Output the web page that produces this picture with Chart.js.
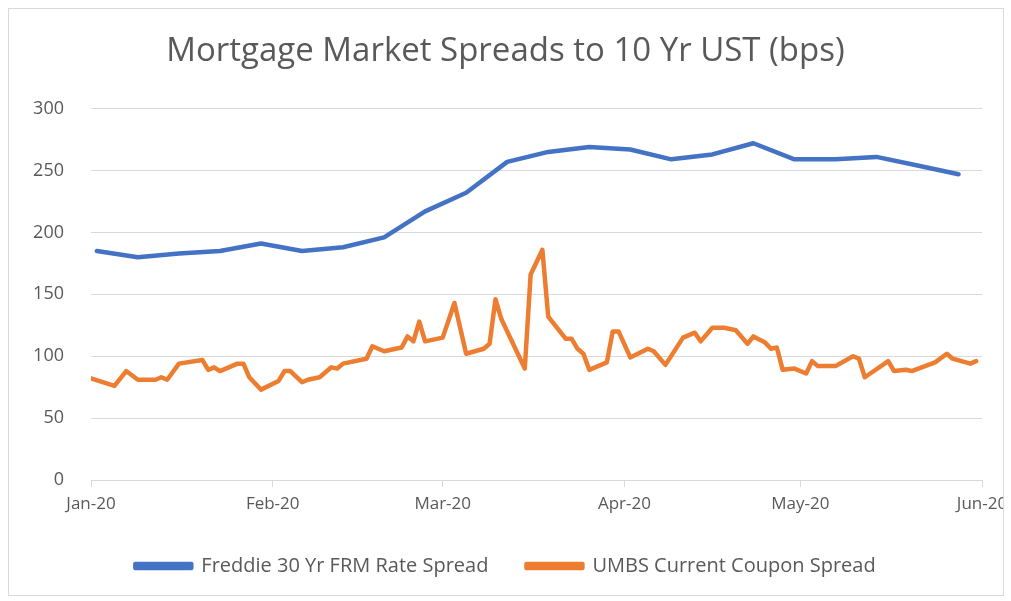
<!DOCTYPE html>
<html lang="en">
<head>
    <meta charset="UTF-8">
    <title>Mortgage Market Spreads</title>
    <style>
        * { margin: 0; padding: 0; box-sizing: border-box; }
        body { background: #fff; width: 1011px; height: 601px; overflow: hidden; }
        #wrap {
            position: absolute;
            left: 8px; top: 8px;
            width: 996px; height: 588px;
            border: 1px solid #d9d9d9;
        }
    </style>
</head>
<body>
    <div id="wrap"><canvas id="chart"></canvas></div>

    <script src="https://cdn.jsdelivr.net/npm/chart.js"></script>
    <script>
        // x values are days since 1 Jan 2020
        const monthTicks = [0, 31, 60, 91, 121, 152];
        const monthLabels = ['Jan-20', 'Feb-20', 'Mar-20', 'Apr-20', 'May-20', 'Jun-20'];

        // Freddie Mac weekly survey (Thursdays)
        const freddieDays = [1, 8, 15, 22, 29, 36, 43, 50, 57, 64, 71, 78, 85, 92, 99, 106, 113, 120, 127, 134, 141, 148];
        const freddieValues = [185, 180, 183, 185, 191, 185, 188, 196, 217, 232, 257, 265, 269, 267, 259, 263, 272, 259, 259, 261, 254, 247];

        // UMBS current coupon, read at the turning points of the line
        const umbsDays = [0, 4, 6, 8, 11, 12, 13, 15, 19, 20, 21, 22, 25, 26, 27, 29, 32, 33, 34, 36, 37, 39, 41, 42, 43,
            47, 48, 50, 53, 54, 55, 56, 57, 60, 62, 64, 67, 68, 69, 70, 74, 75, 77, 78, 81, 82, 83, 84, 85, 88, 89, 90,
            92, 95, 96, 98, 101, 103, 104, 106, 108, 110, 112, 113, 115, 116, 117, 118, 120, 122, 123, 124, 127, 130,
            131, 132, 136, 137, 139, 140, 144, 146, 147, 150, 151];
        const umbsValues = [82, 76, 88, 81, 81, 83, 81, 94, 97, 89, 91, 88, 94, 94, 83, 73, 80, 88, 88, 79, 81, 83, 91, 90, 94,
            98, 108, 104, 107, 116, 112, 128, 112, 115, 143, 102, 106, 110, 146, 130, 90, 166, 186, 132, 114, 114, 106, 102, 89, 95, 120, 120,
            99, 106, 104, 93, 115, 119, 112, 123, 123, 121, 110, 116, 111, 106, 107, 89, 90, 86, 96, 92, 92, 100,
            98, 83, 96, 88, 89, 88, 95, 102, 98, 94, 96];

        const textColor = '#595959';
        const gridColor = '#d9d9d9';
        const fontFamily = '"Open Sans", sans-serif';

        const toPoints = (xs, ys) => xs.map((x, i) => ({ x: x, y: ys[i] }));

        new Chart(document.getElementById('chart'), {
            type: 'line',
            data: {
                datasets: [{
                    label: 'Freddie 30 Yr FRM Rate Spread',
                    data: toPoints(freddieDays, freddieValues),
                    borderColor: '#4472C4',
                    backgroundColor: '#4472C4',
                    borderWidth: 4.5,
                    pointRadius: 0,
                    tension: 0,
                    borderJoinStyle: 'round',
                    borderCapStyle: 'round'
                }, {
                    label: 'UMBS Current Coupon Spread',
                    data: toPoints(umbsDays, umbsValues),
                    borderColor: '#ED7D31',
                    backgroundColor: '#ED7D31',
                    borderWidth: 4.5,
                    pointRadius: 0,
                    tension: 0,
                    borderJoinStyle: 'round',
                    borderCapStyle: 'round'
                }]
            },
            options: {
                responsive: true,
                maintainAspectRatio: false,
                animation: false,
                layout: { autoPadding: false, padding: { left: 20, right: 21, top: 0, bottom: 9 } },
                scales: {
                    x: {
                        type: 'linear',
                        min: 0,
                        max: 152,
                        afterBuildTicks: function(scale) {
                            scale.ticks = monthTicks.map(v => ({ value: v }));
                        },
                        afterFit: function(scale) {
                            scale.height = 38;
                            // let the last label run past the plot edge, as in the original
                            scale.paddingLeft = 0;
                            scale.paddingRight = 0;
                        },
                        ticks: {
                            color: textColor,
                            font: { family: fontFamily, size: 17 },
                            padding: 7,
                            maxRotation: 0,
                            autoSkip: false,
                            callback: function(value) {
                                const i = monthTicks.indexOf(value);
                                return i >= 0 ? monthLabels[i] : '';
                            }
                        },
                        grid: { drawOnChartArea: false, drawTicks: true, tickLength: 7, color: gridColor },
                        border: { display: true, color: gridColor }
                    },
                    y: {
                        min: 0,
                        max: 300,
                        afterFit: function(scale) { scale.width = 62; },
                        ticks: {
                            stepSize: 50,
                            color: textColor,
                            font: { family: fontFamily, size: 18 },
                            padding: 27
                        },
                        grid: { color: gridColor, drawTicks: false },
                        border: { display: false }
                    }
                },
                plugins: {
                    title: {
                        display: true,
                        text: 'Mortgage Market Spreads to 10 Yr UST (bps)',
                        color: textColor,
                        font: { family: fontFamily, size: 33, weight: 'normal' },
                        padding: { top: 23, bottom: 37 }
                    },
                    legend: {
                        position: 'bottom',
                        labels: {
                            color: textColor,
                            font: { family: fontFamily, size: 20 },
                            boxWidth: 56,
                            boxHeight: 4,
                            padding: 38
                        }
                    },
                    tooltip: { enabled: false }
                }
            }
        });
    </script>
</body>
</html>
